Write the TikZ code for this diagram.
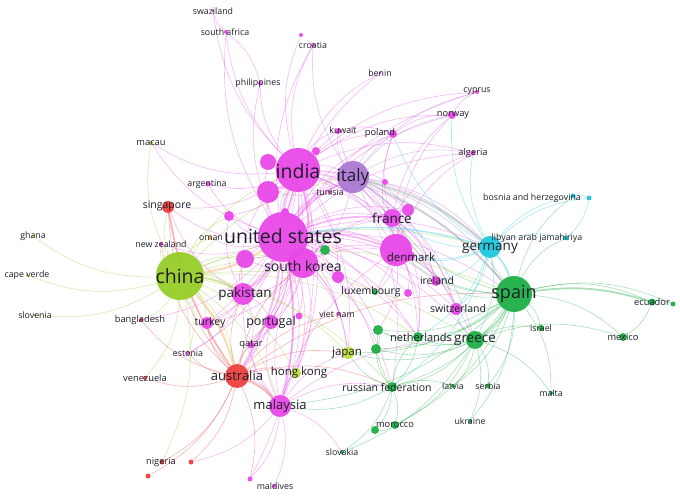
\documentclass[tikz,border=0pt]{standalone}
\usepackage{fontspec}
\setmainfont{Open Sans}
\usetikzlibrary{backgrounds}
\definecolor{cM}{RGB}{232,72,232}
\definecolor{cP}{RGB}{172,122,212}
\definecolor{cY}{RGB}{150,205,40}
\definecolor{cJ}{RGB}{190,222,60}
\definecolor{cR}{RGB}{238,64,64}
\definecolor{cO}{RGB}{240,170,80}
\definecolor{cC}{RGB}{30,200,220}
\definecolor{cG}{RGB}{30,175,70}
\definecolor{cK}{RGB}{140,170,150}
\definecolor{txt}{RGB}{30,30,40}
\newcommand\fs[1]{\fontsize{#1}{#1}\selectfont}
\tikzset{
  nd/.style={circle, inner sep=0pt, draw=none, fill opacity=0.95},
  lbS/.style={font=\fs{8.8}, text=txt, inner sep=0pt},
  lbT/.style={font=\fs{10.5}, text=txt, inner sep=0pt},
  lbM/.style={font=\fs{13.5}, text=txt, inner sep=0pt},
  lbL/.style={font=\fs{19.5}, text=txt, inner sep=0pt},
  ed/.style={line width=0.6pt, draw opacity=0.38, bend left=18},
  edT/.style={line width=1.8pt, draw opacity=0.38, bend left=12},
}
\begin{document}
\begin{tikzpicture}[x=1pt,y=-1pt]
\useasboundingbox (0,0) rectangle (680,497);
% ---------------- nodes (circles) ----------------
\newcommand\nd[5]{\node[nd, minimum size=#4pt, fill=#5] (#1) at (#2,#3) {};}
\nd{u1}{396}{250}{32}{cM}
\nd{u2}{268}{162}{16}{cM}
\nd{u3}{268}{192}{22}{cM}
\nd{u4}{316}{151}{8}{cM}
\nd{u5}{229}{216}{10}{cM}
\nd{u6}{245}{259}{18}{cM}
\nd{u7}{338}{277}{12}{cM}
\nd{u8}{385}{182}{6}{cM}
\nd{u9}{408}{210}{12}{cM}
\nd{u10}{408}{293}{8}{cM}
\nd{u11}{285}{212}{8}{cM}
\nd{u12}{299}{316}{7}{cM}
\nd{us}{283}{237}{50}{cM}
\nd{india}{298}{170}{44}{cM}
\nd{skorea}{303}{263}{30}{cM}
\nd{italy}{353}{177}{32}{cP}
\nd{france}{392}{218}{18}{cM}
\nd{denmark}{410}{256}{10}{cM}
\nd{ireland}{436}{281}{10}{cM}
\nd{switz}{456}{309}{12}{cM}
\nd{luxem}{375}{292}{6}{cG}
\nd{tunisia}{330}{192}{4}{cM}
\nd{kuwait}{338}{131}{6}{cM}
\nd{poland}{393}{134}{8}{cM}
\nd{norway}{452}{115}{8}{cM}
\nd{cyprus}{477}{92}{4}{cM}
\nd{algeria}{473}{153}{5}{cM}
\nd{benin}{380}{73}{3}{cM}
\nd{croatia}{313}{45}{4}{cM}
\nd{croatiaB}{301}{35}{4}{cM}
\nd{philip}{260}{83}{4}{cM}
\nd{safrica}{226}{32}{4}{cM}
\nd{swazi}{213}{11}{3}{cM}
\nd{argent}{208}{184}{5}{cM}
\nd{oman}{210}{238}{4}{cO}
\nd{pakistan}{243}{294}{22}{cM}
\nd{turkey}{207}{323}{12}{cM}
\nd{portugal}{271}{322}{14}{cM}
\nd{qatar}{251}{345}{7}{cM}
\nd{estonia}{188}{353}{4}{cM}
\nd{malaysia}{280}{406}{22}{cM}
\nd{maldB}{250}{479}{5}{cM}
\nd{maldives}{274}{486}{4}{cM}
\nd{vietnam}{339}{314}{4}{cM}
\nd{hongkong}{296}{373}{10}{cJ}
\nd{china}{180}{276}{48}{cY}
\nd{macau}{151}{143}{4}{cY}
\nd{ghana}{33}{236}{3}{cY}
\nd{capev}{27}{275}{3}{cY}
\nd{slovenia}{35}{315}{3}{cY}
\nd{nz}{161}{244}{4}{cM}
\nd{japan}{348}{353}{12}{cJ}
\nd{australia}{237}{376}{24}{cR}
\nd{singapore}{168}{207}{12}{cR}
\nd{bangla}{141}{320}{4}{cR}
\nd{venez}{145}{378}{4}{cR}
\nd{nigeria}{162}{462}{5}{cR}
\nd{nigeriaB}{191}{462}{5}{cR}
\nd{nigeriaC}{148}{476}{5}{cR}
\nd{germany}{490}{247}{22}{cC}
\nd{bosnia}{573}{196}{5}{cC}
\nd{bosniaB}{589}{198}{5}{cC}
\nd{libyan}{566}{238}{5}{cC}
\nd{spain}{514}{294}{36}{cG}
\nd{greece}{475}{340}{18}{cG}
\nd{nether}{418}{337}{10}{cG}
\nd{g1}{378}{330}{10}{cG}
\nd{g2}{376}{349}{10}{cG}
\nd{g3}{325}{250}{10}{cG}
\nd{russia}{392}{387}{10}{cG}
\nd{morocco}{395}{425}{8}{cG}
\nd{moroccoB}{375}{430}{8}{cG}
\nd{slovakia}{342}{452}{4}{cG}
\nd{latvia}{453}{386}{4}{cG}
\nd{serbia}{488}{386}{5}{cG}
\nd{ukraine}{470}{421}{4}{cG}
\nd{malta}{551}{393}{4}{cG}
\nd{israel}{541}{328}{6}{cG}
\nd{mexico}{623}{337}{8}{cG}
\nd{ecuador}{652}{302}{7}{cG}
\nd{ecuadorB}{673}{304}{5}{cG}
% ---------------- edges ----------------
\begin{scope}[on background layer]
\fill[white] (0,0) rectangle (680,497);
\foreach \b in {india,skorea,italy,france,u1,u2,u3,u4,u5,u6,u7,u9,u10,u11,u12,pakistan,portugal,turkey,malaysia,australia,japan,hongkong,singapore,nether,russia,denmark,ireland,switz,poland,norway,kuwait,croatia,philip,safrica,argent,macau,tunisia,algeria,qatar,vietnam,luxem,oman,nz,bangla,estonia,benin,cyprus,greece,germany,spain,g1,g2,g3,maldB}
  \draw[ed, draw=cM] (us) to (\b);
\foreach \b in {skorea,italy,u1,u2,u3,u6,u9,pakistan,malaysia,australia,france,spain,germany,swazi,safrica,philip,croatia,croatiaB,benin,norway,poland,kuwait,singapore,portugal,turkey,qatar,japan,algeria,cyprus,argent,macau,denmark,greece,u7,u5,hongkong,ireland}
  \draw[ed, draw=cM] (india) to (\b);
\foreach \b in {australia,macau,ghana,capev,slovenia,singapore,nz,bangla,pakistan,hongkong,japan,malaysia,spain,germany,italy,venez,nigeria,russia,greece,nether,u5,u6,oman,turkey,estonia,skorea,india}
  \draw[ed, draw=cY] (china) to (\b);
\foreach \b in {spain,germany,france,greece,u1,poland,norway,algeria,cyprus,skorea,denmark,switz,nether,croatia,u9,u8,kuwait,ireland,russia,u3,u2}
  \draw[ed, draw=cP] (italy) to (\b);
\foreach \b in {germany,greece,ecuador,ecuadorB,mexico,israel,malta,serbia,nether,russia,morocco,switz,ireland,denmark,u1,france,bosnia,libyan,latvia,ukraine,g1,g2,japan,malaysia}
  \draw[ed, draw=cG] (spain) to (\b);
\foreach \b in {bosnia,bosniaB,libyan,greece,nether,france,u1,denmark,algeria,norway,russia,switz,ireland,poland}
  \draw[ed, draw=cC] (germany) to (\b);
\foreach \b in {nether,russia,serbia,latvia,malta,israel,morocco,ukraine,switz,g1,g2,slovakia,mexico,japan}
  \draw[ed, draw=cG] (greece) to (\b);
\foreach \b in {morocco,moroccoB,slovakia,japan,g1,g2,nether,malaysia,latvia}
  \draw[ed, draw=cG] (russia) to (\b);
\foreach \b in {malaysia,singapore,bangla,venez,nigeria,nigeriaB,nigeriaC,estonia,nz,hongkong,pakistan,skorea,qatar,turkey,portugal,vietnam,japan,russia,spain,maldB}
  \draw[ed, draw=cR] (australia) to (\b);
\foreach \b in {maldives,maldB,pakistan,hongkong,japan,skorea,slovakia,nigeriaB,qatar,portugal,u1,russia,greece}
  \draw[ed, draw=cM] (malaysia) to (\b);
\foreach \b in {pakistan,portugal,japan,hongkong,u1,france,vietnam,u6,u7,u9,turkey,nether,denmark,qatar}
  \draw[ed, draw=cM] (skorea) to (\b);
\foreach \b in {u1,denmark,ireland,switz,poland,norway,kuwait,algeria,u9,luxem,nether}
  \draw[ed, draw=cM] (france) to (\b);
\foreach \b in {denmark,ireland,switz,luxem,u10,nether,g1,norway,poland,algeria}
  \draw[ed, draw=cM] (u1) to (\b);
\foreach \b in {portugal,turkey,qatar,singapore,u6,u3,u5,estonia}
  \draw[ed, draw=cM] (pakistan) to (\b);
\draw[ed, draw=cM] (norway) to (cyprus);
\draw[ed, draw=cM] (poland) to (norway);
\draw[ed, draw=cM] (kuwait) to (poland);
\draw[ed, draw=cM] (safrica) to (swazi);
\draw[ed, draw=cM] (safrica) to (philip);
\draw[ed, draw=cG] (ecuador) to (ecuadorB);
\draw[ed, draw=cG] (ecuador) to (mexico);
\draw[ed, draw=cC] (bosnia) to (bosniaB);
\draw[ed, draw=cC] (bosniaB) to (libyan);
\draw[ed, draw=cG] (nether) to (g1);
\draw[ed, draw=cG] (g1) to (g2);
\draw[ed, draw=cG] (nether) to (russia);
\draw[ed, draw=cG] (morocco) to (moroccoB);
% heavier links
\draw[edT, draw=cM] (us) to (india);
\draw[edT, draw=cO, line width=2.4pt] (us) to (china);
\draw[edT, draw=cM] (us) to (skorea);
\draw[edT, draw=cM] (us) to (u1);
\draw[edT, draw=cM] (us) to (italy);
\draw[edT, draw=cM] (india) to (skorea);
\draw[edT, draw=cM] (us) to (france);
\draw[edT, draw=cO, line width=2.4pt] (china) to (australia);
\draw[edT, draw=cM] (india) to (u3);
\draw[edT, draw=cM] (us) to (australia);
\draw[edT, draw=cM] (us) to (malaysia);
\draw[edT, draw=cK, line width=2.4pt] (italy) to (germany);
\draw[edT, draw=cK, line width=2pt] (italy) to (spain);
\draw[edT, draw=cC] (germany) to (spain);
\draw[edT, draw=cG] (spain) to (greece);
\draw[edT, draw=cG] (spain) to (ecuador);
\draw[edT, draw=cR] (australia) to (malaysia);
\draw[edT, draw=cR] (australia) to (singapore);
\draw[edT, draw=cM] (us) to (pakistan);
\draw[edT, draw=cY] (china) to (pakistan);
\draw[edT, draw=cC, line width=1.4pt] (us) to (germany);
\end{scope}
% ---------------- labels ----------------
\node[lbL] (t-us) at (283,236) {united states};
\node[lbL] (t-india) at (298,171) {india};
\node[lbL, font=\fs{17}] (t-italy) at (353,177) {italy};
\node[lbL] (t-china) at (180,276) {china};
\node[lbL, font=\fs{18}] (t-spain) at (514,294) {spain};
\node[lbM, font=\fs{14}] (t-skorea) at (303,266) {south korea};
\node[lbM, font=\fs{13.5}] (t-germany) at (490,248) {germany};
\node[lbM] (t-france) at (392,218) {france};
\node[lbM] (t-pakistan) at (245,294) {pakistan};
\node[lbM, font=\fs{13}] (t-australia) at (237,376) {australia};
\node[lbM, font=\fs{13}] (t-malaysia) at (280,406) {malaysia};
\node[lbM] (t-greece) at (475,340) {greece};
\node[lbM, font=\fs{12.5}] (t-portugal) at (271,322) {portugal};
\node[lbT, font=\fs{11.5}] (t-denmark) at (411,257) {denmark};
\node[lbT] (t-russia) at (387,388) {russian federation};
\node[lbT, font=\fs{11}] (t-nether) at (421,337) {netherlands};
\node[lbT, font=\fs{11.5}] (t-japan) at (347,353) {japan};
\node[lbT, font=\fs{11.5}] (t-hongkong) at (299,373) {hong kong};
\node[lbT] (t-ireland) at (437,281) {ireland};
\node[lbT] (t-switz) at (458,309) {switzerland};
\node[lbT] (t-luxem) at (371,292) {luxembourg};
\node[lbT] (t-turkey) at (210,323) {turkey};
\node[lbS, font=\fs{9.3}] (t-qatar) at (251,345) {qatar};
\node[lbS] (t-estonia) at (188,353) {estonia};
\node[lbS] (t-tunisia) at (330,192) {tunisia};
\node[lbS] (t-kuwait) at (343,130) {kuwait};
\node[lbS, font=\fs{9.3}] (t-poland) at (380,133) {poland};
\node[lbS, font=\fs{9.3}] (t-norway) at (453,115) {norway};
\node[lbS] (t-cyprus) at (477,91) {cyprus};
\node[lbS, font=\fs{9.3}] (t-algeria) at (473,153) {algeria};
\node[lbS] (t-benin) at (380,73) {benin};
\node[lbS] (t-croatia) at (313,45) {croatia};
\node[lbS] (t-philip) at (258,83) {philippines};
\node[lbS] (t-safrica) at (225,32) {south africa};
\node[lbS] (t-swazi) at (213,11) {swaziland};
\node[lbS] (t-argent) at (207,184) {argentina};
\node[lbS] (t-oman) at (211,238) {oman};
\node[lbS] (t-nz) at (161,244) {new zealand};
\node[lbS, font=\fs{9.3}] (t-macau) at (151,143) {macau};
\node[lbS] (t-ghana) at (33,236) {ghana};
\node[lbS] (t-capev) at (27,275) {cape verde};
\node[lbS] (t-slovenia) at (35,315) {slovenia};
\node[lbS, font=\fs{10.5}] (t-singapore) at (167,206) {singapore};
\node[lbS, font=\fs{9.3}] (t-bangla) at (140,320) {bangladesh};
\node[lbS, font=\fs{9.3}] (t-venez) at (145,378) {venezuela};
\node[lbS, font=\fs{9.3}] (t-nigeria) at (161,462) {nigeria};
\node[lbS] (t-maldives) at (275,486) {maldives};
\node[lbS] (t-vietnam) at (337,314) {viet nam};
\node[lbS] (t-bosnia) at (532,198) {bosnia and herzegovina};
\node[lbS] (t-libyan) at (537,238) {libyan arab jamahiriya};
\node[lbS, font=\fs{9.3}] (t-morocco) at (395,425) {morocco};
\node[lbS] (t-slovakia) at (342,452) {slovakia};
\node[lbS] (t-latvia) at (453,386) {latvia};
\node[lbS] (t-serbia) at (488,386) {serbia};
\node[lbS] (t-ukraine) at (470,421) {ukraine};
\node[lbS] (t-malta) at (551,393) {malta};
\node[lbS] (t-israel) at (541,328) {israel};
\node[lbS, font=\fs{9.3}] (t-mexico) at (623,337) {mexico};
\node[lbS, font=\fs{9.3}] (t-ecuador) at (652,302) {ecuador};
\end{tikzpicture}
\end{document}
